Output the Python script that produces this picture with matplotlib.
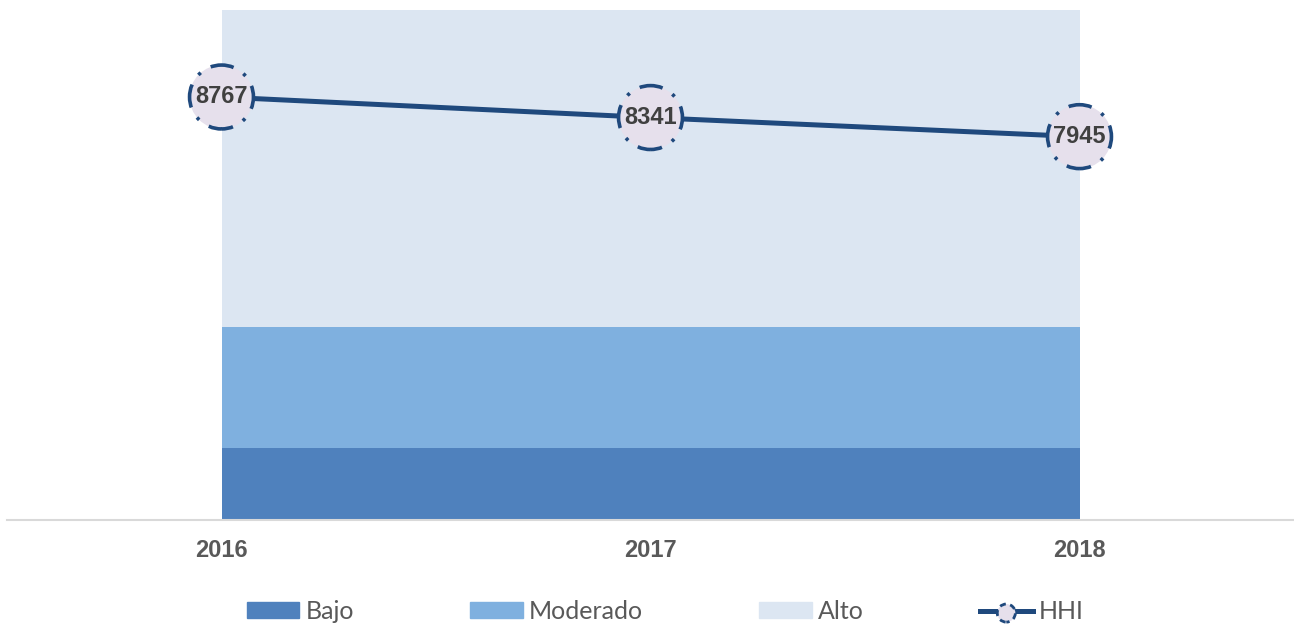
import matplotlib
matplotlib.use("Agg")
import matplotlib.pyplot as plt
from matplotlib.patches import Patch
from matplotlib.lines import Line2D
from matplotlib.legend_handler import HandlerTuple

# data
years = ["2016", "2017", "2018"]
hhi = [8767, 8341, 7945]
bajo = [1500, 1500, 1500]
moderado = [2500, 2500, 2500]
alto = [10000, 10000, 10000]

C_BAJO = "#4F81BD"
C_MOD = "#7FB0DF"
C_ALTO = "#DCE6F2"
C_LINE = "#1F497D"
C_MARK = "#E6E0EC"

fig = plt.figure(figsize=(12.94, 6.24), dpi=100)
ax = fig.add_axes([7 / 1294, 104 / 624, 1287 / 1294, 510 / 624])

x = list(range(len(years)))
ax.stackplot(x, bajo, moderado, alto, colors=[C_BAJO, C_MOD, C_ALTO], zorder=1)

ax.plot(x, hhi, color=C_LINE, lw=3.6, zorder=3, solid_capstyle="butt")
# dash centred at the bottom of each circle, dots on the diagonals
dash = (3.25, (6.5, 3.2, 0.9, 3.2))
ax.scatter(x, hhi, s=46 ** 2, facecolor=C_MARK, edgecolor=C_LINE,
           linewidths=2.6, linestyle=dash, zorder=4)
for xi, v in zip(x, hhi):
    ax.text(xi, v, f"{v}", ha="center", va="center", fontsize=17,
            fontweight="bold", color="#404040", family="Liberation Sans", zorder=5)

ax.set_xlim(-0.5, 2.5)
ax.set_ylim(0, 10570)
ax.set_yticks([])
ax.set_xticks(x)
ax.set_xticklabels(years, fontsize=17, fontweight="bold", color="#595959",
                   family="Liberation Sans")
ax.tick_params(axis="x", length=0, pad=14)
for side in ["top", "right", "left"]:
    ax.spines[side].set_visible(False)
ax.spines["bottom"].set_color("#D9D9D9")
ax.spines["bottom"].set_linewidth(1.5)

# legend
h_line = Line2D([], [], color=C_LINE, lw=3.6)
h_mark = ax.scatter([], [], s=13 ** 2, facecolor=C_MARK, edgecolor=C_LINE,
                    linewidths=2, linestyle=(1, (2.2, 1.6)))
handles = [Patch(color=C_BAJO), Patch(color=C_MOD), Patch(color=C_ALTO),
           (h_line, h_mark)]
labels = ["Bajo", "Moderado", "Alto", "HHI"]
fig.legend(handles, labels, loc="center", bbox_to_anchor=(0.514, 0.02),
           ncol=4, frameon=False, prop={"family": "Lato", "size": 18},
           labelcolor="#595959", handlelength=2.1, handleheight=0.6,
           handletextpad=0.25, columnspacing=4.65,
           handler_map={tuple: HandlerTuple(ndivide=1)})

fig.savefig("out.png", dpi=100)
